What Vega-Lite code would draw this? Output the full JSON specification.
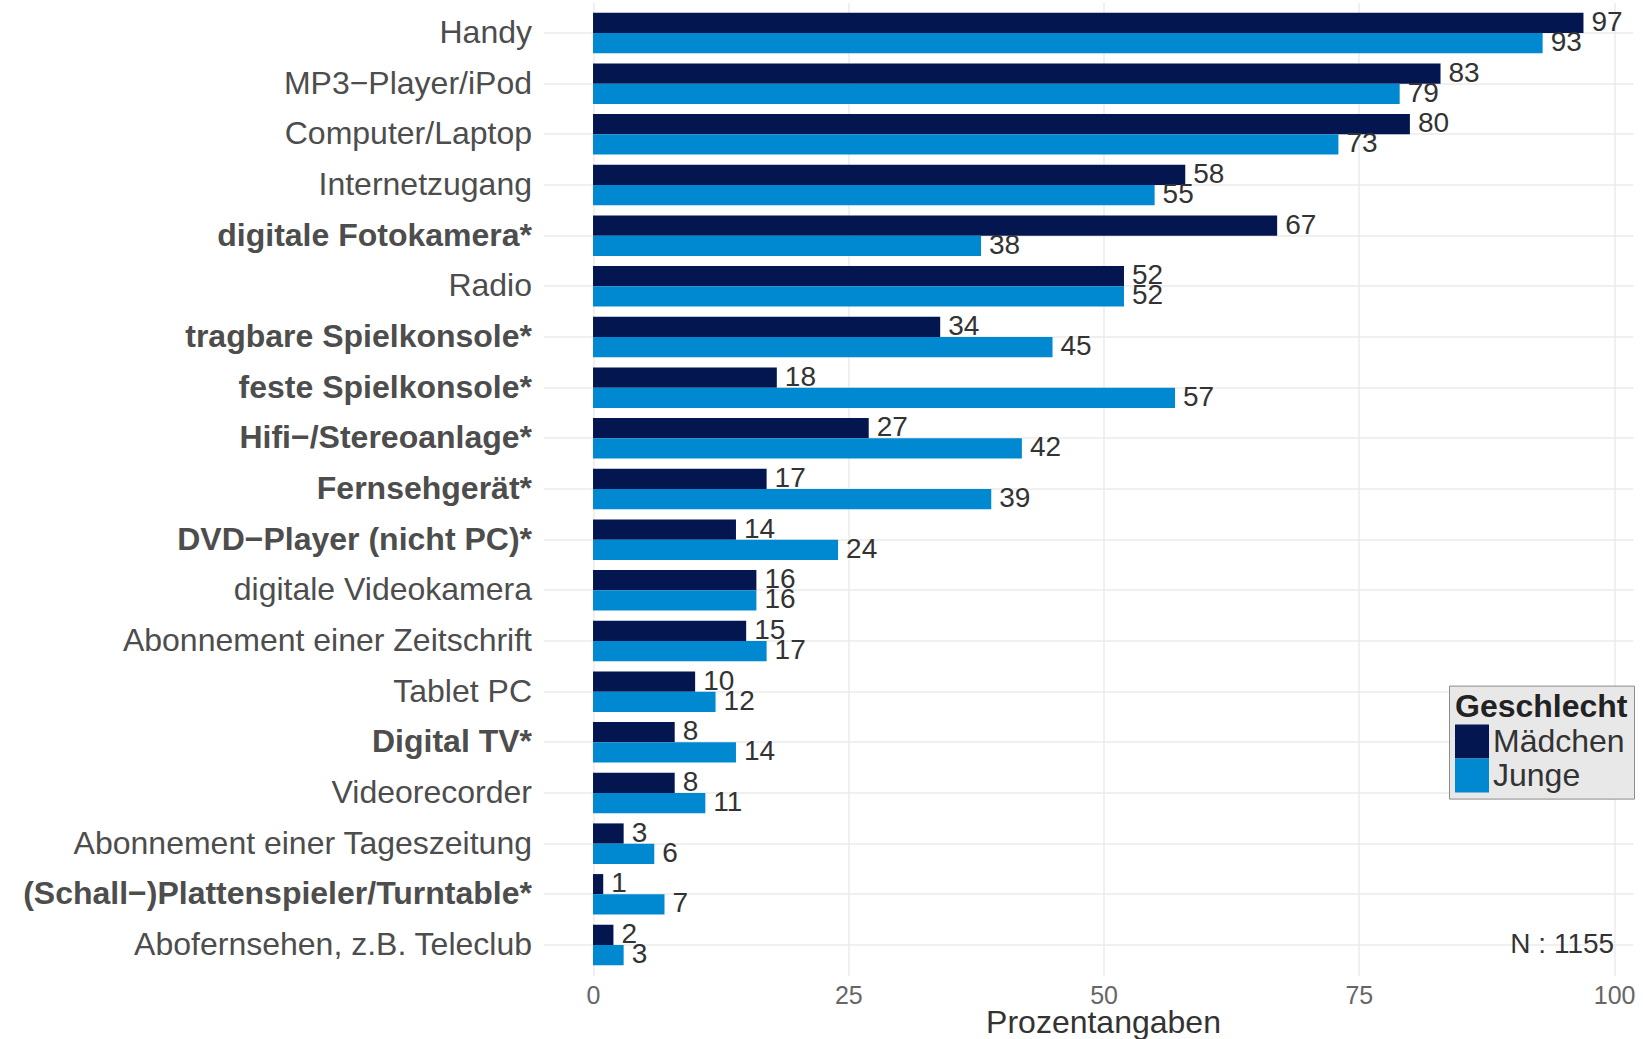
{
  "$schema": "https://vega.github.io/schema/vega-lite/v6.json",
  "width": 1089.5,
  "height": 972.8,
  "autosize": {"type": "none"},
  "padding": {"left": 543.5, "top": 2.6, "right": 10, "bottom": 63.6},
  "background": "white",
  "config": {"view": {"stroke": null}, "font": "Liberation Sans"},
  "data": {
    "values": [
      {"item": "Handy", "Geschlecht": "Mädchen", "value": 97},
      {"item": "Handy", "Geschlecht": "Junge", "value": 93},
      {"item": "MP3−Player/iPod", "Geschlecht": "Mädchen", "value": 83},
      {"item": "MP3−Player/iPod", "Geschlecht": "Junge", "value": 79},
      {"item": "Computer/Laptop", "Geschlecht": "Mädchen", "value": 80},
      {"item": "Computer/Laptop", "Geschlecht": "Junge", "value": 73},
      {"item": "Internetzugang", "Geschlecht": "Mädchen", "value": 58},
      {"item": "Internetzugang", "Geschlecht": "Junge", "value": 55},
      {"item": "digitale Fotokamera*", "Geschlecht": "Mädchen", "value": 67},
      {"item": "digitale Fotokamera*", "Geschlecht": "Junge", "value": 38},
      {"item": "Radio", "Geschlecht": "Mädchen", "value": 52},
      {"item": "Radio", "Geschlecht": "Junge", "value": 52},
      {"item": "tragbare Spielkonsole*", "Geschlecht": "Mädchen", "value": 34},
      {"item": "tragbare Spielkonsole*", "Geschlecht": "Junge", "value": 45},
      {"item": "feste Spielkonsole*", "Geschlecht": "Mädchen", "value": 18},
      {"item": "feste Spielkonsole*", "Geschlecht": "Junge", "value": 57},
      {"item": "Hifi−/Stereoanlage*", "Geschlecht": "Mädchen", "value": 27},
      {"item": "Hifi−/Stereoanlage*", "Geschlecht": "Junge", "value": 42},
      {"item": "Fernsehgerät*", "Geschlecht": "Mädchen", "value": 17},
      {"item": "Fernsehgerät*", "Geschlecht": "Junge", "value": 39},
      {"item": "DVD−Player (nicht PC)*", "Geschlecht": "Mädchen", "value": 14},
      {"item": "DVD−Player (nicht PC)*", "Geschlecht": "Junge", "value": 24},
      {"item": "digitale Videokamera", "Geschlecht": "Mädchen", "value": 16},
      {"item": "digitale Videokamera", "Geschlecht": "Junge", "value": 16},
      {"item": "Abonnement einer Zeitschrift", "Geschlecht": "Mädchen", "value": 15},
      {"item": "Abonnement einer Zeitschrift", "Geschlecht": "Junge", "value": 17},
      {"item": "Tablet PC", "Geschlecht": "Mädchen", "value": 10},
      {"item": "Tablet PC", "Geschlecht": "Junge", "value": 12},
      {"item": "Digital TV*", "Geschlecht": "Mädchen", "value": 8},
      {"item": "Digital TV*", "Geschlecht": "Junge", "value": 14},
      {"item": "Videorecorder", "Geschlecht": "Mädchen", "value": 8},
      {"item": "Videorecorder", "Geschlecht": "Junge", "value": 11},
      {"item": "Abonnement einer Tageszeitung", "Geschlecht": "Mädchen", "value": 3},
      {"item": "Abonnement einer Tageszeitung", "Geschlecht": "Junge", "value": 6},
      {"item": "(Schall−)Plattenspieler/Turntable*", "Geschlecht": "Mädchen", "value": 1},
      {"item": "(Schall−)Plattenspieler/Turntable*", "Geschlecht": "Junge", "value": 7},
      {"item": "Abofernsehen, z.B. Teleclub", "Geschlecht": "Mädchen", "value": 2},
      {"item": "Abofernsehen, z.B. Teleclub", "Geschlecht": "Junge", "value": 3}
    ]
  },
  "layer": [
    {
      "mark": {"type": "bar"},
      "encoding": {
        "y": {
          "field": "item", "type": "nominal", "sort": null,
          "scale": {"paddingInner": 0.2, "paddingOuter": 0.2},
          "axis": {
            "title": null, "ticks": false, "domain": false,
            "labelFontSize": 32, "labelColor": "#4d4d4d", "labelPadding": 12, "labelLimit": 0,
            "labelFontWeight": {"condition": {"test": "indexof(datum.label,'*')>=0", "value": "bold"}, "value": "normal"},
            "grid": true, "gridColor": "#ebebeb", "gridWidth": 1.5, "bandPosition": 0.5
          }
        },
        "yOffset": {"field": "Geschlecht", "type": "nominal", "sort": ["Mädchen", "Junge"], "scale": {"paddingInner": 0, "paddingOuter": 0}},
        "x": {
          "field": "value", "type": "quantitative",
          "scale": {"domain": [-4.85, 101.85], "nice": false, "zero": false},
          "axis": {
            "title": "Prozentangaben", "values": [0, 25, 50, 75, 100], "ticks": false, "domain": false,
            "labelFontSize": 25, "labelColor": "#666666", "labelPadding": 8, "labelFlush": false,
            "titleFontSize": 32, "titleFontWeight": "normal", "titleColor": "#333333", "titlePadding": -1,
            "titleX": 559.5, "titleAlign": "center",
            "grid": true, "gridColor": "#ebebeb", "gridWidth": 1.5
          }
        },
        "x2": {"datum": 0},
        "color": {
          "field": "Geschlecht", "type": "nominal",
          "scale": {"domain": ["Mädchen", "Junge"], "range": ["#031650", "#0088D0"]},
          "legend": {
            "title": "Geschlecht", "orient": "none", "legendX": 905.5, "legendY": 683,
            "fillColor": "#e8e8e8", "strokeColor": "#8c8c8c", "padding": 6,
            "titleFontSize": 32, "titleFontWeight": "bold", "titleColor": "#222222", "titlePadding": 1,
            "labelFontSize": 32, "labelColor": "#333333", "labelOffset": 4,
            "symbolType": "square", "symbolSize": 1156, "symbolStrokeWidth": 0, "rowPadding": 0
          }
        }
      }
    },
    {
      "mark": {"type": "text", "align": "left", "baseline": "middle", "dx": 8, "fontSize": 28, "color": "#333333"},
      "encoding": {
        "y": {"field": "item", "type": "nominal", "sort": null},
        "yOffset": {"field": "Geschlecht", "type": "nominal", "sort": ["Mädchen", "Junge"]},
        "x": {"field": "value", "type": "quantitative"},
        "text": {"field": "value", "type": "quantitative"}
      }
    },
    {
      "data": {"values": [{"note": "N : 1155"}]},
      "mark": {"type": "text", "align": "right", "baseline": "middle", "fontSize": 28, "color": "#333333"},
      "encoding": {
        "x": {"datum": 100},
        "y": {"datum": "Abofernsehen, z.B. Teleclub"},
        "text": {"field": "note", "type": "nominal"}
      }
    }
  ]
}
